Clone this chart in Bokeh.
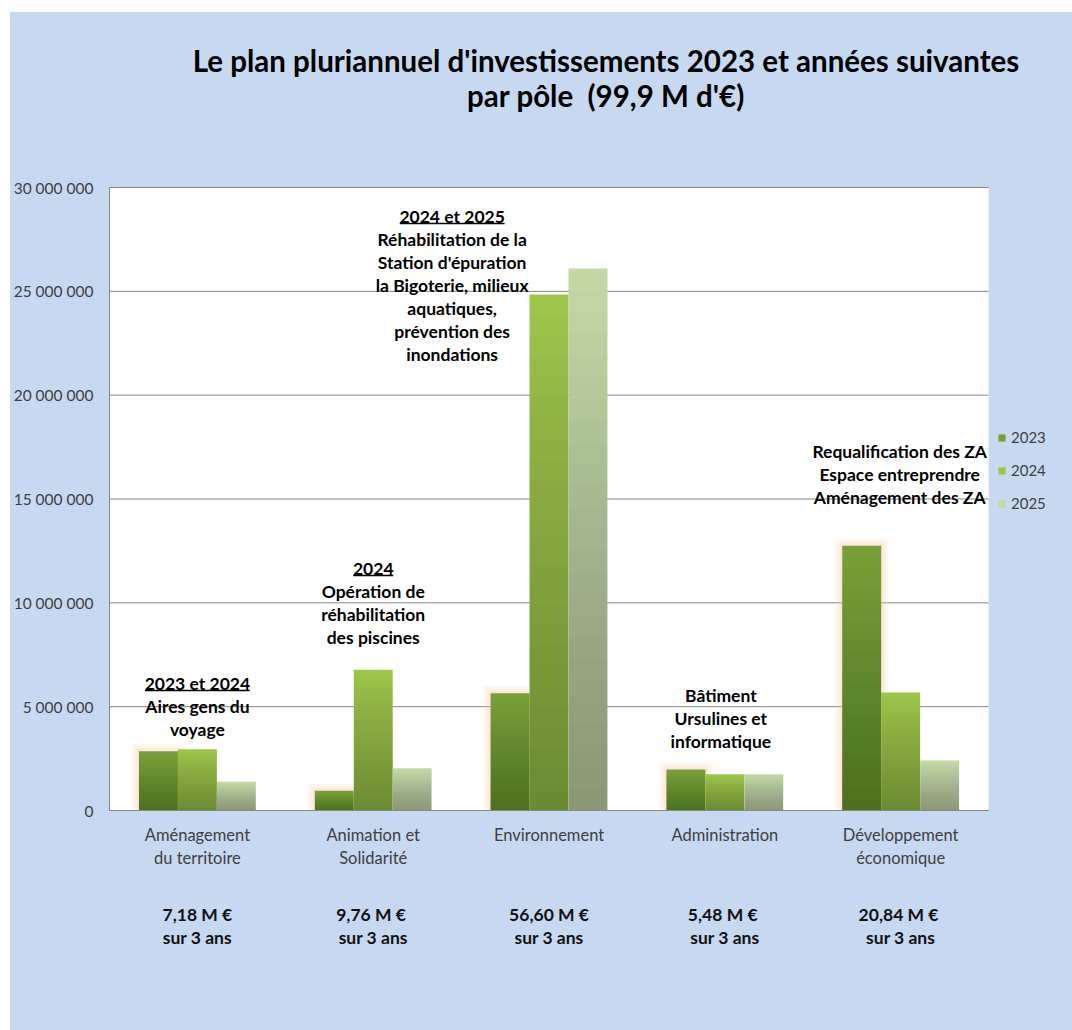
from bokeh.plotting import figure
from bokeh.models import (Range1d, FixedTicker, LinearAxis, Legend, LegendItem,
                          ColumnDataSource)
from bokeh.transform import dodge
from bokeh.core.properties import value
from bokeh.embed import file_html
from bokeh.resources import INLINE

# ---------------- data ----------------
categories = ["Aménagement du territoire", "Animation et Solidarité", "Environnement",
              "Administration", "Développement économique"]
category_labels = ["Aménagement\ndu territoire", "Animation et\nSolidarité", "Environnement",
                   "Administration", "Développement\néconomique"]
total_labels = ["7,18 M €\nsur 3 ans", "9,76  M €\nsur 3 ans", "56,60 M €\nsur 3 ans",
                "5,48  M €\nsur 3 ans", "20,84  M €\nsur 3 ans"]
years = ["2023", "2024", "2025"]
v2023 = [2850000, 950000, 5650000, 1980000, 12750000]
v2024 = [2950000, 6780000, 24850000, 1750000, 5680000]
v2025 = [1380000, 2030000, 26100000, 1750000, 2410000]
y_ticks = [0, 5000000, 10000000, 15000000, 20000000, 25000000, 30000000]
y_tick_labels = ["0", "5 000 000", "10 000 000", "15 000 000", "20 000 000",
                 "25 000 000", "30 000 000"]
title_lines = ["Le plan pluriannuel d'investissements 2023 et années suivantes",
               "par pôle\u00a0 (99,9 M d'€)"]
notes = [
    (0, ["2023 et 2024", "Aires gens du", "voyage"]),
    (1, ["2024", "Opération de", "réhabilitation", "des piscines"]),
    (2, ["2024 et 2025", "Réhabilitation de la", "Station d'épuration",
         "la Bigoterie, milieux", "aquatiques,", "prévention des", "inondations"]),
    (3, ["Bâtiment", "Ursulines et", "informatique"]),
    (4, ["Requalification des ZA", "Espace entreprendre", "Aménagement des ZA"]),
]

# ---------------- style / layout ----------------
BLUE = "#c6d9f1"
GRID = "#868686"
TXT = "#404040"
FONT = "Lato"
colors = ["#78a038", "#9cc54a", "#c4d8a6"]      # top colour of each bar
glow = "#f6c49a"

FIG_W, FIG_H = 1062, 1018          # figure placed at page (10, 12)
OX, OY = 10, 12
PLOT_L, PLOT_R, PLOT_T, PLOT_B = 108, 988, 187, 810   # plot area in page px
YMAX = 30000000
N = len(categories)
CAT_PX = (PLOT_R - PLOT_L) / N
PX_X = 1.0 / CAT_PX
PX_Y = YMAX / (PLOT_B - PLOT_T)
frame_left = PLOT_L - OX
frame_bottom = PLOT_B - OY
X_END = (FIG_W - frame_left) / CAT_PX
Y_TOP = frame_bottom * PX_Y
BAR_W = 39 * PX_X
offsets = [-BAR_W, 0.0, BAR_W]


def page_y(y):  # page pixel row -> data value
    return (PLOT_B - y) * PX_Y


def page_x(x):  # page pixel column -> data x
    return (x - PLOT_L) * PX_X


p = figure(width=FIG_W, height=FIG_H, x_range=Range1d(0, X_END),
           y_range=Range1d(0, Y_TOP), output_backend="svg", toolbar_location=None,
           title_location=None, x_axis_location=None, y_axis_location=None,
           min_border_left=frame_left, min_border_right=0, min_border_top=0,
           min_border_bottom=FIG_H - frame_bottom, background_fill_color=BLUE,
           border_fill_color=BLUE, margin=(OY, 0, 0, OX),
           styles={"background-color": BLUE})
p.outline_line_color = None
p.xgrid.visible = False
p.ygrid.visible = False

x_center = [i + 0.5 for i in range(N)]
data = dict(xc=x_center, v2023=v2023, v2024=v2024, v2025=v2025,
            g1=[v + 2 * PX_Y for v in v2023],
            g2=[v + 4 * PX_Y for v in v2023],
            g3=[v + 7 * PX_Y for v in v2023])
# shading layers (darker towards the bottom of every bar)
LAYERS = 24
for yr in years:
    vals = data["v" + yr]
    for k in range(1, LAYERS + 1):
        data["s%s_%d" % (yr, k)] = [v * k / (LAYERS + 1) for v in vals]
src = ColumnDataSource(data)

# white plot area and its horizontal grid lines
p.quad(left=[0], right=[N], bottom=[0], top=[YMAX], fill_color="white", line_color=None)
p.segment(x0=[0] * len(y_ticks), x1=[N] * len(y_ticks), y0=y_ticks, y1=y_ticks,
          line_color=GRID, line_width=1)

# soft glow behind the 2023 bars
for k, col in ((7, "g3"), (4, "g2"), (2, "g1")):
    p.vbar(x=dodge("xc", offsets[0]), top=col, width=BAR_W + 2 * k * PX_X, source=src,
           fill_color=glow, fill_alpha=0.15, line_color=None)

renderers = []
for yr, off, col in zip(years, offsets, colors):
    r = p.vbar(x=dodge("xc", off), top="v" + yr, width=BAR_W, source=src,
               fill_color=col, line_color=None)
    renderers.append(r)
    for k in range(1, LAYERS + 1):
        p.vbar(x=dodge("xc", off), top="s%s_%d" % (yr, k), width=BAR_W, source=src,
               fill_color="black", fill_alpha=0.0105, line_color=None)

# y axis
yax = LinearAxis(ticker=FixedTicker(ticks=y_ticks),
                 major_label_overrides=dict(zip(y_ticks, y_tick_labels)),
                 bounds=(0, YMAX), axis_line_color=GRID, major_tick_line_color=None,
                 minor_tick_line_color=None, major_tick_out=0, major_tick_in=0,
                 major_label_standoff=16, major_label_text_font=FONT,
                 major_label_text_font_size="15.5px", major_label_text_color=TXT)
p.add_layout(yax, "left")

# category axis and totals axis
xax = LinearAxis(ticker=FixedTicker(ticks=x_center),
                 major_label_overrides=dict(zip(x_center, category_labels)),
                 bounds=(0, N), axis_line_color=GRID, major_tick_line_color=None,
                 minor_tick_line_color=None, major_tick_out=0, major_tick_in=0,
                 major_label_standoff=14, major_label_text_font=FONT,
                 major_label_text_font_size="16.5px", major_label_text_color=TXT,
                 major_label_text_line_height=1.16,
                 major_label_orientation="horizontal")
p.add_layout(xax, "below")
tax = LinearAxis(ticker=FixedTicker(ticks=x_center),
                 major_label_overrides=dict(zip(x_center, total_labels)),
                 axis_line_color=None, major_tick_line_color=None,
                 minor_tick_line_color=None, major_tick_out=0, major_tick_in=0,
                 major_label_standoff=33, major_label_text_font=FONT,
                 major_label_text_font_style="bold", major_label_text_font_size="17.5px",
                 major_label_text_color="#111111", major_label_text_line_height=1.1,
                 major_label_orientation="horizontal")
p.add_layout(tax, "below")

# annotations inside the plot: (top line centre page row, x offset px)
note_anchor = {0: (683, 0), 1: (568, 0), 2: (216, -97), 3: (695, -4), 4: (451, -1)}
nx, ny, nt, ndy = [], [], [], []
for i, lines in notes:
    yrow, dx = note_anchor[i]
    for j, t in enumerate(lines):
        nx.append(x_center[i] + dx * PX_X); ny.append(page_y(yrow))
        nt.append(t); ndy.append(j * 23)
p.text(x="x", y="y", text="t", y_offset="dy",
       source=ColumnDataSource(dict(x=nx, y=ny, t=nt, dy=ndy)),
       text_align="center", text_baseline="middle", text_font=value(FONT),
       text_font_style="bold", text_font_size="17.5px", text_color="black")

# underlines of the year headings
ul_w = {0: 105, 1: 40, 2: 105}
ux0, ux1, uy = [], [], []
for i, w in ul_w.items():
    yrow, dx = note_anchor[i]
    c = x_center[i] + dx * PX_X
    ux0.append(c - w / 2 * PX_X); ux1.append(c + w / 2 * PX_X); uy.append(page_y(yrow + 7))
p.segment(x0=ux0, y0=uy, x1=ux1, y1=uy, line_color="black", line_width=1.3)

# title
p.text(x=[page_x(605)] * 2, y=[page_y(60), page_y(95)], text=title_lines,
       text_align="center", text_baseline="middle", text_font=value(FONT),
       text_font_style="bold", text_font_size="29.5px", text_color="black")

# legend (sits in the blue band right of the plot area)
legend = Legend(items=[LegendItem(label=y, renderers=[r]) for y, r in zip(years, renderers)],
                location=(1001 - PLOT_L - 5, PLOT_B - 513), margin=0, padding=5,
                spacing=13, glyph_width=9, glyph_height=9, label_height=20,
                label_standoff=5, label_text_font=FONT, label_text_font_size="15px",
                label_text_color=TXT, background_fill_alpha=0, border_line_color=None)
p.add_layout(legend)

open("out.html", "w").write(file_html(p, INLINE))
